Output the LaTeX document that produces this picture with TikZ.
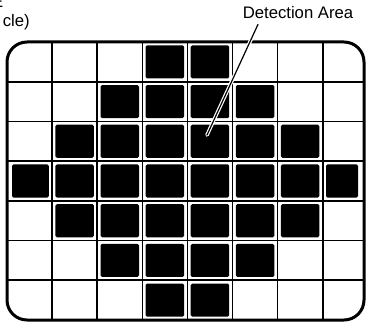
\documentclass[tikz,border=0pt]{standalone}
\usepackage{fontspec}
\setmainfont{Liberation Sans}
\def\gridl{7}
\def\gridr{364}
\def\gridt{42}
\def\gridb{320}
\def\colw{45.1}
\def\rowh{39.71}
\def\gap{3.3}

\begin{document}
\begin{tikzpicture}[x=1pt,y=-1pt,
		font=\fontsize{16.7}{18}\selectfont,
		frame/.style={line width=3pt,rounded corners=20pt},
		gl/.style={line width=1.6pt},
		cell/.style={fill=black,rounded corners=1.5pt},
		lead/.style={line width=1.2pt,line cap=round,
			preaction={draw=white,line width=3.6pt,line cap=round}},
		lbl/.style={anchor=base,inner sep=0pt}]
	
	\useasboundingbox (0,0) rectangle (366,323);
	
	% ============ Raster ============
	\foreach \i in {1,...,7}
		\draw[gl] (\gridl+\i*\colw,\gridt) -- (\gridl+\i*\colw,\gridb);
	\foreach \j in {1,...,6}
		\draw[gl] (\gridl,\gridt+\j*\rowh) -- (\gridr,\gridt+\j*\rowh);
	
	% ============ belegte Felder: Zeile / erste / letzte Spalte ============
	\foreach \r/\a/\b in {0/3/4,1/2/5,2/1/6,3/0/7,4/1/6,5/2/5,6/3/4}
		\foreach \c in {\a,...,\b}{
			\pgfmathsetmacro\xl{max(\gridl+\c*\colw+\gap,\gridl+5)}
			\pgfmathsetmacro\xr{min(\gridl+(\c+1)*\colw-\gap,\gridr-6)}
			\fill[cell] (\xl,\gridt+\r*\rowh+\gap) rectangle (\xr,\gridt+\r*\rowh+\rowh-\gap);
		}
	
	% ============ Rahmen ============
	\draw[frame] (\gridl,\gridt) rectangle (\gridr,\gridb);
	
	% ============ Beschriftung ============
	\node[lbl,anchor=base east] (veha) at (3.5,8) {E};
	\node[lbl,anchor=base east] (vehb) at (30,27) {cle)};
	\node[lbl] (det) at (298,19) {Detection Area};
	\coordinate (tip) at (207,135);
	\draw[lead] ([xshift=-40pt,yshift=-5pt]det.south) -- (tip);
	
\end{tikzpicture}
\end{document}
